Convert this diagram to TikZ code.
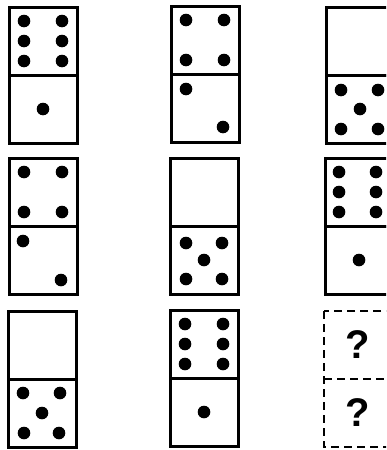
\documentclass[tikz,border=0pt]{standalone}
\usepackage{fontspec}
\newfontfamily\qfont{Liberation Sans}
\usepackage{tikz}

\begin{document}
\begin{tikzpicture}[x=1pt, y=-1pt, every node/.style={minimum size=68pt, inner sep=0pt, outer sep=0pt, line width=3pt},
	half/.style={draw=black}, pip/.style={fill=black},
	qmark/.style={font=\qfont\bfseries\fontsize{40}{40}\selectfont},
	qline/.style={line width=2.6pt, dash pattern=on 8pt off 5pt}]
				\useasboundingbox (0,0) rectangle (386,450);
				\clip (0,0) rectangle (386,450);
				% row 1
				\node[half] (r1c1t) at (43,41) {};
				\node[half] (r1c1b) at (43,109) {};
				\node[half] (r1c2t) at (205,40) {};
				\node[half] (r1c2b) at (205,108) {};
				\node[half] (r1c3t) at (360,41) {};
				\node[half] (r1c3b) at (360,109) {};
				% row 2
				\node[half] (r2c1t) at (43,192) {};
				\node[half] (r2c1b) at (43,260) {};
				\node[half] (r2c2t) at (204,192) {};
				\node[half] (r2c2b) at (204,260) {};
				\node[half] (r2c3t) at (359,192) {};
				\node[half] (r2c3b) at (359,260) {};
				% row 3
				\node[half] (r3c1t) at (42,345) {};
				\node[half] (r3c1b) at (42,413) {};
				\node[half] (r3c2t) at (204,344) {};
				\node[half] (r3c2b) at (204,412) {};
				\node[qmark] (r3c3t) at (358,345) {?};
				\node[qmark] (r3c3b) at (358,413) {?};
				\draw[qline] (r3c3t.north west) rectangle (r3c3b.south east);
				\draw[qline] (r3c3t.south west) -- (r3c3t.south east);
				
				% pips
				\foreach \dx/\dy in {-19/-20,19/-20,-19/0,19/0,-19/20,19/20} \fill[pip] ([shift={(\dx,\dy)}]r1c1t.center) circle (6.3);
				\fill[pip] (r1c1b.center) circle (6.3);
				\foreach \dx/\dy in {-19/-20,19/-20,-19/20,19/20} \fill[pip] ([shift={(\dx,\dy)}]r1c2t.center) circle (6.3);
				\foreach \dx/\dy in {-19/-19,18/19} \fill[pip] ([shift={(\dx,\dy)}]r1c2b.center) circle (6.3);
				\foreach \dx/\dy in {-19/-19,18/-19,0/0,-19/20,18/20} \fill[pip] ([shift={(\dx,\dy)}]r1c3b.center) circle (6.3);
				\foreach \dx/\dy in {-19/-20,19/-20,-19/20,19/20} \fill[pip] ([shift={(\dx,\dy)}]r2c1t.center) circle (6.3);
				\foreach \dx/\dy in {-20/-19,18/20} \fill[pip] ([shift={(\dx,\dy)}]r2c1b.center) circle (6.3);
				\foreach \dx/\dy in {-18/-17,18/-17,0/0,-18/19,18/19} \fill[pip] ([shift={(\dx,\dy)}]r2c2b.center) circle (6.3);
				\foreach \dx/\dy in {-20/-20,17/-20,-20/0,17/0,-20/20,17/20} \fill[pip] ([shift={(\dx,\dy)}]r2c3t.center) circle (6.3);
				\fill[pip] (r2c3b.center) circle (6.3);
				\foreach \dx/\dy in {-19/-20,18/-20,0/0,-18/20,17/20} \fill[pip] ([shift={(\dx,\dy)}]r3c1b.center) circle (6.3);
				\foreach \dx/\dy in {-19/-20,19/-20,-19/0,19/0,-19/20,19/20} \fill[pip] ([shift={(\dx,\dy)}]r3c2t.center) circle (6.3);
				\fill[pip] (r3c2b.center) circle (6.3);
			\end{tikzpicture}
\end{document}
